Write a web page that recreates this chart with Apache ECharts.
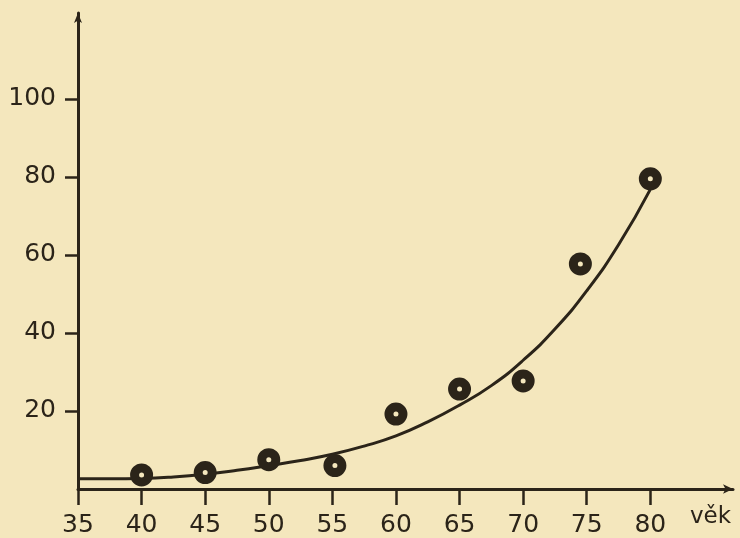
<!DOCTYPE html>
<html>
<head>
<meta charset="utf-8">
<script src="https://cdn.jsdelivr.net/npm/echarts@6/dist/echarts.min.js"></script>
<style>
html,body{margin:0;padding:0;background:#f4e7bd;}
#c{width:740px;height:538px;}
</style>
</head>
<body>
<div id="c"></div>
<script>
// observed points (age, value)
var pointAges = [40, 45, 50, 55.2, 60, 65, 70, 74.5, 80];
var pointValues = [3.6, 4.2, 7.5, 6.0, 19.2, 25.6, 27.7, 57.7, 79.5];
// fitted curve
var curveAges = [35, 37.5, 40, 42.5, 45, 47.5, 50, 52.5, 55, 57.5, 60, 62.5, 65, 67.5, 70, 72.5, 75, 77.5, 80];
var curveValues = [2.6, 2.6, 2.7, 3.1, 3.8, 4.8, 6.0, 7.3, 8.9, 11.0, 13.6, 17.2, 21.5, 26.5, 33.0, 41.0, 50.8, 62.6, 76.8];
// tick labels
var xTicks = [35, 40, 45, 50, 55, 60, 65, 70, 75, 80];
var yTicks = [20, 40, 60, 80, 100];
var xName = 'věk';

var ink = '#2b2419';
var bg = '#f4e7bd';
var font = 'DejaVu Sans';
var chart = echarts.init(document.getElementById('c'));
chart.setOption({
  backgroundColor: bg,
  animation: false,
  grid: {left: 78, right: 7, top: 13, bottom: 49},
  xAxis: {
    type: 'value', min: 35, max: 86.5,
    name: xName, nameLocation: 'end', nameGap: -2,
    nameTextStyle: {color: ink, fontSize: 23, fontFamily: font, align: 'right', verticalAlign: 'top', padding: [17, 0, 0, 0]},
    axisLine: {show: true, lineStyle: {color: ink, width: 3}, symbol: ['none', 'arrow'], symbolSize: [7, 10]},
    axisTick: {show: true, inside: false, length: 16, lineStyle: {color: ink, width: 2.5}, customValues: xTicks},
    axisLabel: {color: ink, fontSize: 25, fontFamily: font, margin: 24, customValues: xTicks},
    splitLine: {show: false}
  },
  yAxis: {
    type: 'value', min: 0, max: 122,
    axisLine: {show: true, lineStyle: {color: ink, width: 3}, symbol: ['none', 'arrow'], symbolSize: [6, 10]},
    axisTick: {show: true, inside: false, length: 13, lineStyle: {color: ink, width: 2.5}, customValues: yTicks},
    axisLabel: {color: ink, fontSize: 25, fontFamily: font, margin: 22, customValues: yTicks},
    splitLine: {show: false}
  },
  series: [
    {
      type: 'line', smooth: 0.5, symbol: 'none',
      lineStyle: {color: ink, width: 3},
      data: curveAges.map(function (a, i) { return [a, curveValues[i]]; }),
      z: 2
    },
    {
      type: 'scatter', symbol: 'circle', symbolSize: 14,
      itemStyle: {color: bg, borderColor: ink, borderWidth: 9, opacity: 1},
      data: pointAges.map(function (a, i) { return [a, pointValues[i]]; }),
      z: 3
    }
  ]
});
</script>
</body>
</html>
